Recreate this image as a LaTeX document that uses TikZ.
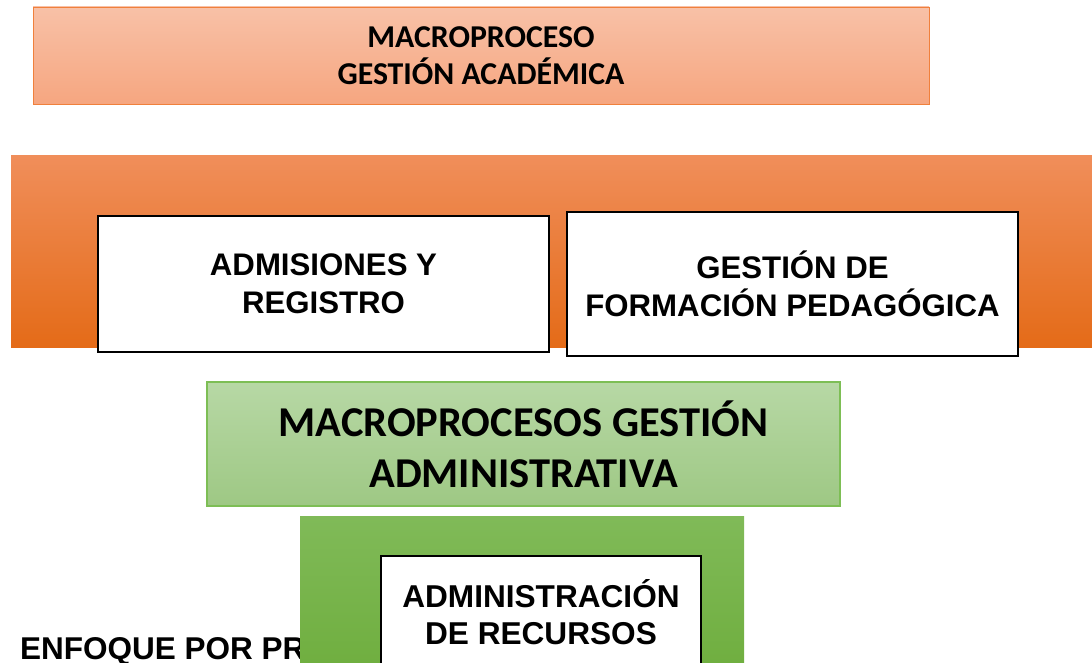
\documentclass[tikz,border=0pt]{standalone}
\usepackage{fontspec}
\setmainfont{Liberation Sans}
\newfontfamily\calibri{Carlito}
\definecolor{acadtop}{RGB}{248,193,167}
\definecolor{acadbot}{RGB}{246,166,128}
\definecolor{acadline}{RGB}{240,128,60}
\definecolor{bandtop}{RGB}{240,142,90}
\definecolor{bandmid}{RGB}{244,128,38}
\definecolor{bandbot}{RGB}{228,107,24}
\definecolor{admtop}{RGB}{183,216,165}
\definecolor{admbot}{RGB}{158,200,132}
\definecolor{admline}{RGB}{125,190,85}
\definecolor{rectop}{RGB}{128,186,88}
\definecolor{recbot}{RGB}{108,172,58}

\begin{document}
\begin{tikzpicture}[x=1pt,y=-1pt,
  macro/.style={font=\calibri\bfseries, align=center, inner sep=0pt},
  proc/.style={draw=black, line width=2.2pt, fill=white, align=center, inner sep=0pt,
    font=\bfseries\fontsize{31.2}{38}\selectfont}]
\useasboundingbox (0,0) rectangle (1092,663);
\clip (0,0) rectangle (1092,663);

% macroproceso academico
\node[macro, draw=acadline, line width=0.8pt, top color=acadtop, bottom color=acadbot,
  minimum width=896pt, minimum height=97pt, font=\calibri\bfseries\fontsize{31.8}{37}\selectfont]
  (acad) at (481,55.5) {MACROPROCESO\\GESTIÓN ACADÉMICA};
\node[inner sep=0pt, top color=bandtop, middle color=bandmid, bottom color=bandbot,
  minimum width=1089pt, minimum height=191pt] (banda) at (555.5,251.5) {};
\node[proc, minimum width=451pt, minimum height=136pt] (admisiones) at (323.5,284) {ADMISIONES Y\\REGISTRO};
\node[proc, minimum width=451pt, minimum height=144pt] (formacion) at (792.5,284) {GESTIÓN DE\\FORMACIÓN PEDAGÓGICA};

% macroproceso administrativo
\node[macro, draw=admline, line width=1.2pt, top color=admtop, bottom color=admbot,
  minimum width=633pt, minimum height=124pt, font=\calibri\bfseries\fontsize{42.5}{51}\selectfont]
  (admin) at (523.5,444) {MACROPROCESOS GESTIÓN\\ADMINISTRATIVA};
\node[anchor=base west, inner sep=0pt, font=\bfseries\fontsize{31.5}{36}\selectfont]
  (enfoque) at (20,659) {ENFOQUE POR PROCESOS};
\node[inner sep=0pt, top color=rectop, bottom color=recbot,
  minimum width=444pt, minimum height=184pt] (marco) at (522,608) {};
\node[proc, minimum width=320pt, minimum height=112pt, font=\bfseries\fontsize{31.6}{37}\selectfont]
  (recursos) at (541,612) {ADMINISTRACIÓN\\DE RECURSOS};
\end{tikzpicture}
\end{document}
